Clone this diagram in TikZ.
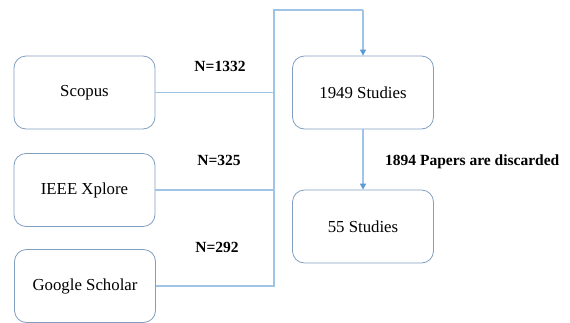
\documentclass[tikz,border=0pt]{standalone}
\usepackage{fontspec}
\setmainfont{Liberation Serif}
\newfontfamily\tnr{Liberation Serif}
\usetikzlibrary{arrows.meta}
\definecolor{boxline}{RGB}{128,158,192}
\definecolor{conn}{RGB}{160,196,230}
\definecolor{tipc}{RGB}{91,155,213}
\tikzset{
  box/.style={draw=boxline, line width=0.8pt, rounded corners=12pt, minimum width=141pt, minimum height=73pt, inner sep=0pt, font=\tnr\fontsize{16.8}{18}\selectfont},
  connector/.style={draw=conn, line width=1.1pt},
  lbl/.style={font=\tnr\bfseries\fontsize{15.5}{17}\selectfont, inner sep=0pt},
  tip/.style={-{Triangle[length=6pt,width=6pt,color=tipc]}}
}
\begin{document}
\begin{tikzpicture}[x=1pt,y=1pt]
\useasboundingbox (0,0) rectangle (570,-322);
\begin{scope}
\clip (0,0) rectangle (570,-322);
\node[box] (scopus) at (84.5,-92.5) {Scopus};
\node[box] (ieee) at (84.5,-190) {IEEE Xplore};
\node[box] (google) at (85,-286) {Google Scholar};
\end{scope}
\node[box] (s1949) at (363,-92.5) {1949 Studies};
\node[box] (s55) at (363,-226.5) {55 Studies};
\coordinate (bus) at (274,-286);
\coordinate (top) at (274,-10);
\coordinate (topr) at (363,-10);
\draw[connector] (scopus.east) -- (scopus.east -| bus);
\draw[connector] (ieee.east) -- (ieee.east -| bus);
\draw[connector] (google.east) -- (bus) -- (top) -- (topr);
\draw[connector, tip] (topr) -- (s1949.north);
\draw[connector, tip] (s1949.south) -- (s55.north);
\node[lbl] (n1) at (220,-66) {N=1332};
\node[lbl] (n2) at (219,-160) {N=325};
\node[lbl] (n3) at (217,-247) {N=292};
\node[lbl, anchor=west] (disc) at (385,-162) {1894 Papers are discarded};
\end{tikzpicture}
\end{document}
